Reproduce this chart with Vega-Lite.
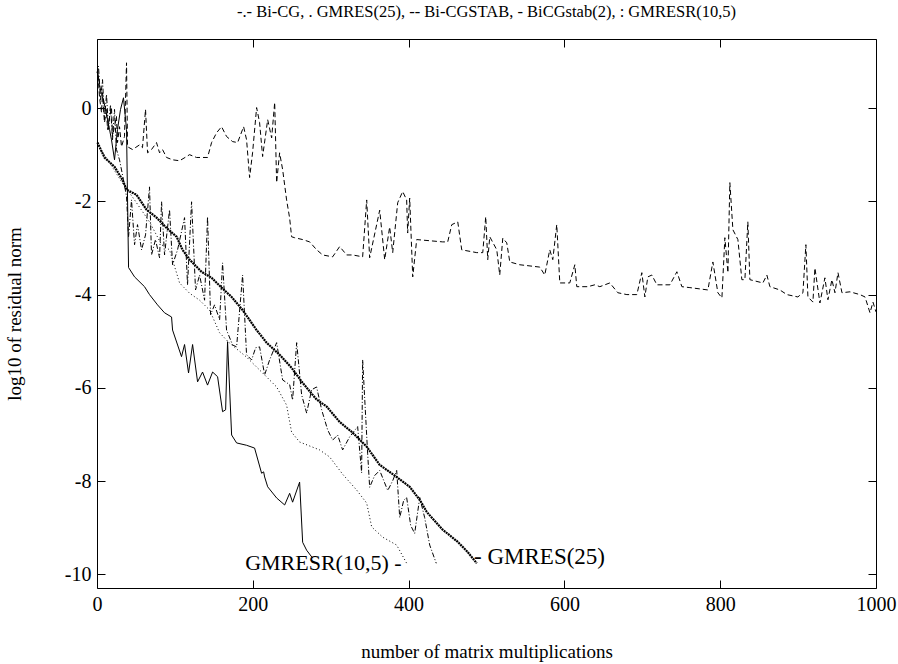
{
  "$schema": "https://vega.github.io/schema/vega-lite/v6.json",
  "width": 779,
  "height": 549,
  "autosize": {"type": "none"},
  "padding": {"left": 97, "top": 39, "right": 22, "bottom": 76},
  "background": "white",
  "title": {"text": "-.- Bi-CG, . GMRES(25), -- Bi-CGSTAB, - BiCGstab(2), : GMRESR(10,5)", "font": "Liberation Serif", "fontSize": 16.5, "fontWeight": "normal", "color": "black", "offset": 18, "anchor": "middle"},
  "config": {
    "view": {"stroke": "black", "strokeWidth": 1},
    "axis": {"domain": false, "grid": false, "tickColor": "black", "tickSize": -8, "labelColor": "black", "titleColor": "black", "labelFont": "Liberation Serif", "titleFont": "Liberation Serif", "labelFontSize": 20, "titleFontSize": 19, "titleFontWeight": "normal", "labelBound": false, "labelFlush": false, "labelOverlap": false, "labelExpr": "'' + datum.value"}
  },
  "datasets": {
    "lines": [
      {"s":"BiCGstab2","x":0.6,"y":0.82},{"s":"BiCGstab2","x":3.2,"y":0.5},{"s":"BiCGstab2","x":5.8,"y":0.29},{"s":"BiCGstab2","x":8.3,"y":0.18},{"s":"BiCGstab2","x":10.9,"y":-0.03},{"s":"BiCGstab2","x":13.5,"y":-0.25},{"s":"BiCGstab2","x":16.1,"y":-0.46},{"s":"BiCGstab2","x":18.6,"y":-0.68},{"s":"BiCGstab2","x":22.5,"y":-1.11},{"s":"BiCGstab2","x":26.3,"y":-0.46},{"s":"BiCGstab2","x":30.2,"y":-0.03},{"s":"BiCGstab2","x":34.0,"y":0.22},{"s":"BiCGstab2","x":37.9,"y":-0.46},{"s":"BiCGstab2","x":40.5,"y":-3.42},{"s":"BiCGstab2","x":48.2,"y":-3.62},{"s":"BiCGstab2","x":61.0,"y":-3.83},{"s":"BiCGstab2","x":67.4,"y":-4.0},{"s":"BiCGstab2","x":77.7,"y":-4.22},{"s":"BiCGstab2","x":86.7,"y":-4.39},{"s":"BiCGstab2","x":95.7,"y":-4.48},{"s":"BiCGstab2","x":97.0,"y":-4.76},{"s":"BiCGstab2","x":108.5,"y":-5.33},{"s":"BiCGstab2","x":112.4,"y":-5.07},{"s":"BiCGstab2","x":117.5,"y":-5.68},{"s":"BiCGstab2","x":122.7,"y":-5.07},{"s":"BiCGstab2","x":129.1,"y":-5.87},{"s":"BiCGstab2","x":135.5,"y":-5.66},{"s":"BiCGstab2","x":141.9,"y":-5.94},{"s":"BiCGstab2","x":148.4,"y":-5.66},{"s":"BiCGstab2","x":154.8,"y":-5.76},{"s":"BiCGstab2","x":161.2,"y":-6.51},{"s":"BiCGstab2","x":165.1,"y":-6.47},{"s":"BiCGstab2","x":167.6,"y":-5.01},{"s":"BiCGstab2","x":172.8,"y":-7.01},{"s":"BiCGstab2","x":179.2,"y":-7.18},{"s":"BiCGstab2","x":192.0,"y":-7.23},{"s":"BiCGstab2","x":202.3,"y":-7.29},{"s":"BiCGstab2","x":211.3,"y":-7.83},{"s":"BiCGstab2","x":213.9,"y":-7.8},{"s":"BiCGstab2","x":215.2,"y":-7.91},{"s":"BiCGstab2","x":219.1,"y":-8.12},{"s":"BiCGstab2","x":230.6,"y":-8.36},{"s":"BiCGstab2","x":240.9,"y":-8.51},{"s":"BiCGstab2","x":247.3,"y":-8.26},{"s":"BiCGstab2","x":251.1,"y":-8.45},{"s":"BiCGstab2","x":260.1,"y":-8.02},{"s":"BiCGstab2","x":264.0,"y":-9.31},{"s":"BiCGstab2","x":269.1,"y":-9.48},{"s":"BiCGstab2","x":276.8,"y":-9.65},

      {"s":"GMRES","x":0.6,"y":-0.74},{"s":"GMRES","x":9.6,"y":-1.06},{"s":"GMRES","x":22.5,"y":-1.26},{"s":"GMRES","x":32.8,"y":-1.54},{"s":"GMRES","x":37.9,"y":-1.75},{"s":"GMRES","x":50.7,"y":-1.86},{"s":"GMRES","x":63.6,"y":-2.18},{"s":"GMRES","x":76.5,"y":-2.35},{"s":"GMRES","x":89.3,"y":-2.57},{"s":"GMRES","x":102.2,"y":-2.76},{"s":"GMRES","x":109.8,"y":-3.04},{"s":"GMRES","x":118.8,"y":-3.25},{"s":"GMRES","x":134.2,"y":-3.51},{"s":"GMRES","x":147.1,"y":-3.64},{"s":"GMRES","x":159.9,"y":-3.85},{"s":"GMRES","x":172.8,"y":-4.05},{"s":"GMRES","x":186.9,"y":-4.33},{"s":"GMRES","x":204.9,"y":-4.76},{"s":"GMRES","x":217.7,"y":-5.03},{"s":"GMRES","x":234.4,"y":-5.29},{"s":"GMRES","x":249.8,"y":-5.57},{"s":"GMRES","x":263.9,"y":-5.89},{"s":"GMRES","x":281.9,"y":-6.25},{"s":"GMRES","x":294.8,"y":-6.4},{"s":"GMRES","x":311.5,"y":-6.73},{"s":"GMRES","x":328.2,"y":-6.96},{"s":"GMRES","x":346.2,"y":-7.26},{"s":"GMRES","x":362.9,"y":-7.65},{"s":"GMRES","x":384.7,"y":-7.91},{"s":"GMRES","x":401.4,"y":-8.12},{"s":"GMRES","x":414.3,"y":-8.4},{"s":"GMRES","x":423.3,"y":-8.66},{"s":"GMRES","x":443.8,"y":-9.04},{"s":"GMRES","x":463.1,"y":-9.3},{"s":"GMRES","x":475.9,"y":-9.52},{"s":"GMRES","x":487.5,"y":-9.76},

      {"s":"GMRESR","x":0.6,"y":-0.8},{"s":"GMRESR","x":16.1,"y":-1.17},{"s":"GMRESR","x":31.5,"y":-1.58},{"s":"GMRESR","x":48.2,"y":-1.97},{"s":"GMRESR","x":67.4,"y":-2.44},{"s":"GMRESR","x":82.9,"y":-2.93},{"s":"GMRESR","x":93.1,"y":-3.04},{"s":"GMRESR","x":106.0,"y":-3.75},{"s":"GMRESR","x":118.8,"y":-3.97},{"s":"GMRESR","x":131.7,"y":-4.12},{"s":"GMRESR","x":144.5,"y":-4.33},{"s":"GMRESR","x":157.4,"y":-4.82},{"s":"GMRESR","x":170.2,"y":-5.04},{"s":"GMRESR","x":192.0,"y":-5.34},{"s":"GMRESR","x":212.6,"y":-5.68},{"s":"GMRESR","x":230.6,"y":-5.98},{"s":"GMRESR","x":243.4,"y":-6.37},{"s":"GMRESR","x":249.8,"y":-6.95},{"s":"GMRESR","x":260.1,"y":-7.16},{"s":"GMRESR","x":285.8,"y":-7.33},{"s":"GMRESR","x":298.6,"y":-7.48},{"s":"GMRESR","x":315.3,"y":-7.85},{"s":"GMRESR","x":333.3,"y":-8.19},{"s":"GMRESR","x":346.2,"y":-8.47},{"s":"GMRESR","x":352.6,"y":-8.98},{"s":"GMRESR","x":366.7,"y":-9.2},{"s":"GMRESR","x":384.7,"y":-9.37},{"s":"GMRESR","x":397.5,"y":-9.76},

      {"s":"BiCG","x":0,"y":0.75},{"s":"BiCG","x":1.9,"y":0.9},{"s":"BiCG","x":4.5,"y":0.18},{"s":"BiCG","x":7.1,"y":0.61},{"s":"BiCG","x":9.6,"y":-0.25},{"s":"BiCG","x":12.2,"y":0.29},{"s":"BiCG","x":14.8,"y":-0.46},{"s":"BiCG","x":17.3,"y":0.07},{"s":"BiCG","x":19.9,"y":-0.68},{"s":"BiCG","x":22.5,"y":-0.03},{"s":"BiCG","x":25.0,"y":-0.89},{"s":"BiCG","x":28.9,"y":-1.11},{"s":"BiCG","x":34.0,"y":-1.54},{"s":"BiCG","x":37.9,"y":-1.9},{"s":"BiCG","x":40.5,"y":-2.76},{"s":"BiCG","x":44.3,"y":-1.97},{"s":"BiCG","x":48.2,"y":-2.93},{"s":"BiCG","x":52.0,"y":-2.5},{"s":"BiCG","x":57.2,"y":-3.04},{"s":"BiCG","x":62.3,"y":-2.72},{"s":"BiCG","x":67.4,"y":-1.69},{"s":"BiCG","x":70.0,"y":-3.15},{"s":"BiCG","x":75.1,"y":-2.82},{"s":"BiCG","x":80.3,"y":-3.21},{"s":"BiCG","x":82.9,"y":-2.01},{"s":"BiCG","x":86.7,"y":-3.15},{"s":"BiCG","x":93.1,"y":-2.18},{"s":"BiCG","x":97.0,"y":-3.36},{"s":"BiCG","x":103.4,"y":-3.04},{"s":"BiCG","x":112.4,"y":-2.35},{"s":"BiCG","x":116.2,"y":-3.79},{"s":"BiCG","x":121.4,"y":-2.01},{"s":"BiCG","x":126.5,"y":-3.9},{"s":"BiCG","x":131.7,"y":-3.58},{"s":"BiCG","x":138.1,"y":-4.12},{"s":"BiCG","x":141.9,"y":-2.33},{"s":"BiCG","x":145.8,"y":-4.43},{"s":"BiCG","x":150.9,"y":-4.22},{"s":"BiCG","x":157.4,"y":-4.54},{"s":"BiCG","x":161.2,"y":-3.32},{"s":"BiCG","x":166.3,"y":-4.76},{"s":"BiCG","x":174.1,"y":-5.08},{"s":"BiCG","x":179.2,"y":-5.12},{"s":"BiCG","x":186.9,"y":-3.58},{"s":"BiCG","x":192.0,"y":-5.29},{"s":"BiCG","x":198.5,"y":-5.4},{"s":"BiCG","x":203.6,"y":-5.14},{"s":"BiCG","x":208.7,"y":-5.12},{"s":"BiCG","x":215.2,"y":-5.72},{"s":"BiCG","x":221.6,"y":-5.4},{"s":"BiCG","x":230.6,"y":-5.03},{"s":"BiCG","x":238.3,"y":-5.83},{"s":"BiCG","x":247.3,"y":-5.93},{"s":"BiCG","x":251.1,"y":-6.26},{"s":"BiCG","x":256.3,"y":-5.03},{"s":"BiCG","x":262.7,"y":-6.15},{"s":"BiCG","x":269.1,"y":-6.54},{"s":"BiCG","x":275.5,"y":-6.04},{"s":"BiCG","x":281.9,"y":-5.98},{"s":"BiCG","x":288.4,"y":-6.47},{"s":"BiCG","x":296.1,"y":-6.9},{"s":"BiCG","x":302.5,"y":-7.12},{"s":"BiCG","x":308.9,"y":-7.01},{"s":"BiCG","x":315.3,"y":-7.33},{"s":"BiCG","x":324.3,"y":-7.05},{"s":"BiCG","x":334.6,"y":-6.83},{"s":"BiCG","x":339.7,"y":-7.82},{"s":"BiCG","x":341.0,"y":-5.4},{"s":"BiCG","x":347.4,"y":-7.4},{"s":"BiCG","x":350.0,"y":-8.13},{"s":"BiCG","x":356.4,"y":-7.88},{"s":"BiCG","x":362.9,"y":-7.77},{"s":"BiCG","x":373.2,"y":-8.2},{"s":"BiCG","x":379.6,"y":-7.99},{"s":"BiCG","x":384.7,"y":-7.77},{"s":"BiCG","x":388.6,"y":-8.78},{"s":"BiCG","x":393.7,"y":-8.41},{"s":"BiCG","x":397.5,"y":-8.35},{"s":"BiCG","x":402.7,"y":-8.95},{"s":"BiCG","x":407.8,"y":-9.12},{"s":"BiCG","x":414.3,"y":-8.35},{"s":"BiCG","x":420.6,"y":-8.78},{"s":"BiCG","x":427.1,"y":-9.37},{"s":"BiCG","x":435.5,"y":-9.76},

      {"s":"BiCGSTAB","x":0.6,"y":0.87},{"s":"BiCGSTAB","x":3.2,"y":0.24},{"s":"BiCGSTAB","x":5.8,"y":-0.1},{"s":"BiCGSTAB","x":7.1,"y":0.33},{"s":"BiCGSTAB","x":9.6,"y":-0.31},{"s":"BiCGSTAB","x":12.2,"y":-0.03},{"s":"BiCGSTAB","x":13.5,"y":-0.46},{"s":"BiCGSTAB","x":18.6,"y":0.01},{"s":"BiCGSTAB","x":19.9,"y":-0.61},{"s":"BiCGSTAB","x":25.0,"y":-0.18},{"s":"BiCGSTAB","x":26.3,"y":-0.74},{"s":"BiCGSTAB","x":28.9,"y":-0.4},{"s":"BiCGSTAB","x":31.5,"y":-0.83},{"s":"BiCGSTAB","x":35.3,"y":-0.61},{"s":"BiCGSTAB","x":37.9,"y":0.97},{"s":"BiCGSTAB","x":39.2,"y":-0.83},{"s":"BiCGSTAB","x":45.6,"y":-0.89},{"s":"BiCGSTAB","x":54.6,"y":-0.79},{"s":"BiCGSTAB","x":58.4,"y":-0.85},{"s":"BiCGSTAB","x":62.3,"y":-0.03},{"s":"BiCGSTAB","x":64.9,"y":-0.96},{"s":"BiCGSTAB","x":70.0,"y":-0.89},{"s":"BiCGSTAB","x":76.4,"y":-0.74},{"s":"BiCGSTAB","x":80.3,"y":-0.96},{"s":"BiCGSTAB","x":84.1,"y":-0.89},{"s":"BiCGSTAB","x":89.3,"y":-1.06},{"s":"BiCGSTAB","x":97.0,"y":-1.11},{"s":"BiCGSTAB","x":106.0,"y":-1.13},{"s":"BiCGSTAB","x":115.0,"y":-1.04},{"s":"BiCGSTAB","x":118.8,"y":-1.0},{"s":"BiCGSTAB","x":127.8,"y":-1.06},{"s":"BiCGSTAB","x":141.9,"y":-1.06},{"s":"BiCGSTAB","x":147.1,"y":-0.74},{"s":"BiCGSTAB","x":153.5,"y":-0.53},{"s":"BiCGSTAB","x":159.9,"y":-0.4},{"s":"BiCGSTAB","x":166.3,"y":-0.61},{"s":"BiCGSTAB","x":174.1,"y":-0.72},{"s":"BiCGSTAB","x":180.5,"y":-0.74},{"s":"BiCGSTAB","x":188.2,"y":-0.4},{"s":"BiCGSTAB","x":192.0,"y":-0.68},{"s":"BiCGSTAB","x":195.9,"y":-1.49},{"s":"BiCGSTAB","x":199.7,"y":-0.96},{"s":"BiCGSTAB","x":204.9,"y":0.01},{"s":"BiCGSTAB","x":208.7,"y":-0.31},{"s":"BiCGSTAB","x":212.6,"y":-1.04},{"s":"BiCGSTAB","x":219.1,"y":-0.25},{"s":"BiCGSTAB","x":224.2,"y":-0.64},{"s":"BiCGSTAB","x":228.1,"y":0.12},{"s":"BiCGSTAB","x":230.6,"y":-1.6},{"s":"BiCGSTAB","x":234.4,"y":-0.96},{"s":"BiCGSTAB","x":238.3,"y":-1.32},{"s":"BiCGSTAB","x":243.4,"y":-1.97},{"s":"BiCGSTAB","x":247.3,"y":-2.36},{"s":"BiCGSTAB","x":249.8,"y":-2.76},{"s":"BiCGSTAB","x":253.7,"y":-2.78},{"s":"BiCGSTAB","x":264.0,"y":-2.82},{"s":"BiCGSTAB","x":273.0,"y":-2.87},{"s":"BiCGSTAB","x":282.0,"y":-3.04},{"s":"BiCGSTAB","x":289.7,"y":-3.15},{"s":"BiCGSTAB","x":302.5,"y":-3.19},{"s":"BiCGSTAB","x":311.5,"y":-2.97},{"s":"BiCGSTAB","x":320.5,"y":-3.15},{"s":"BiCGSTAB","x":328.2,"y":-3.15},{"s":"BiCGSTAB","x":341.0,"y":-3.19},{"s":"BiCGSTAB","x":346.2,"y":-1.97},{"s":"BiCGSTAB","x":350.0,"y":-3.21},{"s":"BiCGSTAB","x":362.9,"y":-2.19},{"s":"BiCGSTAB","x":369.3,"y":-3.25},{"s":"BiCGSTAB","x":375.7,"y":-2.55},{"s":"BiCGSTAB","x":379.6,"y":-3.1},{"s":"BiCGSTAB","x":386.0,"y":-2.03},{"s":"BiCGSTAB","x":392.4,"y":-1.79},{"s":"BiCGSTAB","x":397.5,"y":-1.97},{"s":"BiCGSTAB","x":398.8,"y":-2.68},{"s":"BiCGSTAB","x":401.4,"y":-1.93},{"s":"BiCGSTAB","x":405.3,"y":-3.62},{"s":"BiCGSTAB","x":410.4,"y":-2.82},{"s":"BiCGSTAB","x":443.8,"y":-2.87},{"s":"BiCGSTAB","x":450.2,"y":-2.87},{"s":"BiCGSTAB","x":455.4,"y":-2.5},{"s":"BiCGSTAB","x":463.1,"y":-2.44},{"s":"BiCGSTAB","x":468.2,"y":-3.04},{"s":"BiCGSTAB","x":487.5,"y":-3.1},{"s":"BiCGSTAB","x":495.2,"y":-3.1},{"s":"BiCGSTAB","x":499.0,"y":-2.33},{"s":"BiCGSTAB","x":501.6,"y":-3.25},{"s":"BiCGSTAB","x":504.2,"y":-2.76},{"s":"BiCGSTAB","x":513.2,"y":-3.04},{"s":"BiCGSTAB","x":517.0,"y":-3.58},{"s":"BiCGSTAB","x":520.9,"y":-2.79},{"s":"BiCGSTAB","x":526.0,"y":-2.89},{"s":"BiCGSTAB","x":529.9,"y":-3.3},{"s":"BiCGSTAB","x":542.7,"y":-3.36},{"s":"BiCGSTAB","x":568.4,"y":-3.41},{"s":"BiCGSTAB","x":574.8,"y":-3.58},{"s":"BiCGSTAB","x":581.2,"y":-3.04},{"s":"BiCGSTAB","x":585.1,"y":-3.25},{"s":"BiCGSTAB","x":590.2,"y":-2.5},{"s":"BiCGSTAB","x":594.1,"y":-3.75},{"s":"BiCGSTAB","x":606.9,"y":-3.75},{"s":"BiCGSTAB","x":613.4,"y":-3.36},{"s":"BiCGSTAB","x":615.9,"y":-3.83},{"s":"BiCGSTAB","x":630.1,"y":-3.83},{"s":"BiCGSTAB","x":639.0,"y":-3.79},{"s":"BiCGSTAB","x":645.5,"y":-3.83},{"s":"BiCGSTAB","x":658.3,"y":-3.75},{"s":"BiCGSTAB","x":668.6,"y":-3.96},{"s":"BiCGSTAB","x":680.2,"y":-4.0},{"s":"BiCGSTAB","x":693.0,"y":-4.0},{"s":"BiCGSTAB","x":699.4,"y":-3.53},{"s":"BiCGSTAB","x":703.3,"y":-4.05},{"s":"BiCGSTAB","x":707.1,"y":-3.62},{"s":"BiCGSTAB","x":712.3,"y":-3.58},{"s":"BiCGSTAB","x":718.7,"y":-3.79},{"s":"BiCGSTAB","x":735.4,"y":-3.79},{"s":"BiCGSTAB","x":744.4,"y":-3.51},{"s":"BiCGSTAB","x":750.8,"y":-3.83},{"s":"BiCGSTAB","x":761.1,"y":-3.85},{"s":"BiCGSTAB","x":784.2,"y":-3.9},{"s":"BiCGSTAB","x":790.6,"y":-3.3},{"s":"BiCGSTAB","x":797.0,"y":-3.96},{"s":"BiCGSTAB","x":802.2,"y":-4.07},{"s":"BiCGSTAB","x":806.0,"y":-2.78},{"s":"BiCGSTAB","x":809.9,"y":-3.53},{"s":"BiCGSTAB","x":812.4,"y":-1.6},{"s":"BiCGSTAB","x":816.3,"y":-2.61},{"s":"BiCGSTAB","x":822.7,"y":-2.82},{"s":"BiCGSTAB","x":827.8,"y":-3.68},{"s":"BiCGSTAB","x":831.7,"y":-3.68},{"s":"BiCGSTAB","x":835.5,"y":-2.44},{"s":"BiCGSTAB","x":838.1,"y":-3.68},{"s":"BiCGSTAB","x":854.8,"y":-3.75},{"s":"BiCGSTAB","x":859.9,"y":-3.58},{"s":"BiCGSTAB","x":863.8,"y":-3.83},{"s":"BiCGSTAB","x":876.6,"y":-3.9},{"s":"BiCGSTAB","x":885.6,"y":-4.0},{"s":"BiCGSTAB","x":899.7,"y":-4.05},{"s":"BiCGSTAB","x":906.2,"y":-3.96},{"s":"BiCGSTAB","x":910.0,"y":-2.93},{"s":"BiCGSTAB","x":912.6,"y":-4.05},{"s":"BiCGSTAB","x":919.0,"y":-4.16},{"s":"BiCGSTAB","x":921.6,"y":-3.43},{"s":"BiCGSTAB","x":928.0,"y":-4.18},{"s":"BiCGSTAB","x":934.4,"y":-3.64},{"s":"BiCGSTAB","x":938.3,"y":-4.11},{"s":"BiCGSTAB","x":943.4,"y":-3.68},{"s":"BiCGSTAB","x":947.3,"y":-3.96},{"s":"BiCGSTAB","x":951.2,"y":-3.53},{"s":"BiCGSTAB","x":956.3,"y":-3.96},{"s":"BiCGSTAB","x":966.6,"y":-3.94},{"s":"BiCGSTAB","x":979.4,"y":-4.0},{"s":"BiCGSTAB","x":985.9,"y":-4.05},{"s":"BiCGSTAB","x":992.3,"y":-4.39},{"s":"BiCGSTAB","x":996.1,"y":-4.16},{"s":"BiCGSTAB","x":1000,"y":-4.37}
    ]
  },
  "layer": [
    {
      "data": {"name": "lines"},
      "transform": [{"filter": "datum.s == 'BiCGSTAB'"}],
      "mark": {"type": "line", "color": "black", "strokeWidth": 1, "strokeDash": [5, 3], "strokeCap": "butt"},
      "encoding": {
        "x": {"field": "x", "type": "quantitative", "scale": {"domain": [0, 1000], "nice": false, "zero": false}, "axis": {"orient": "bottom", "values": [0, 200, 400, 600, 800, 1000], "title": "number of matrix multiplications", "titlePadding": 28, "labelPadding": 14}},
        "y": {"field": "y", "type": "quantitative", "scale": {"domain": [-10.29, 1.48], "nice": false, "zero": false}, "axis": {"orient": "left", "values": [-10, -8, -6, -4, -2, 0], "title": "log10 of residual norm", "titlePadding": 40, "labelPadding": 14}}
      }
    },
    {
      "data": {"name": "lines"},
      "transform": [{"filter": "datum.s == 'BiCG'"}],
      "mark": {"type": "line", "color": "black", "strokeWidth": 1, "strokeDash": [5, 2, 1, 2], "strokeCap": "butt"},
      "encoding": {
        "x": {"field": "x", "type": "quantitative", "axis": null},
        "y": {"field": "y", "type": "quantitative", "axis": null}
      }
    },
    {
      "data": {"name": "lines"},
      "transform": [{"filter": "datum.s == 'GMRESR'"}],
      "mark": {"type": "line", "color": "black", "strokeWidth": 1, "strokeDash": [1, 2.5], "strokeCap": "butt"},
      "encoding": {
        "x": {"field": "x", "type": "quantitative", "axis": null},
        "y": {"field": "y", "type": "quantitative", "axis": null}
      }
    },
    {
      "data": {"name": "lines"},
      "transform": [{"filter": "datum.s == 'BiCGstab2'"}],
      "mark": {"type": "line", "color": "black", "strokeWidth": 1},
      "encoding": {
        "x": {"field": "x", "type": "quantitative", "axis": null},
        "y": {"field": "y", "type": "quantitative", "axis": null}
      }
    },
    {
      "data": {"name": "lines"},
      "transform": [{"filter": "datum.s == 'GMRES'"}],
      "mark": {"type": "line", "color": "black", "strokeWidth": 2.2, "strokeDash": [2, 0.7], "strokeCap": "butt"},
      "encoding": {
        "x": {"field": "x", "type": "quantitative", "axis": null},
        "y": {"field": "y", "type": "quantitative", "axis": null}
      }
    },
    {
      "data": {"values": [{"x": 391, "y": -9.76, "t": "GMRESR(10,5) -"}]},
      "mark": {"type": "text", "align": "right", "baseline": "middle", "font": "Liberation Serif", "fontSize": 22, "color": "black"},
      "encoding": {
        "x": {"field": "x", "type": "quantitative", "axis": {"orient": "top", "values": [0, 200, 400, 600, 800, 1000], "labels": false, "title": null}},
        "y": {"field": "y", "type": "quantitative", "axis": {"orient": "right", "values": [-10, -8, -6, -4, -2, 0], "labels": false, "title": null}},
        "text": {"field": "t"}
      }
    },
    {
      "data": {"values": [{"x": 484, "y": -9.63, "t": "- GMRES(25)"}]},
      "mark": {"type": "text", "align": "left", "baseline": "middle", "font": "Liberation Serif", "fontSize": 23, "color": "black"},
      "encoding": {
        "x": {"field": "x", "type": "quantitative", "axis": null},
        "y": {"field": "y", "type": "quantitative", "axis": null},
        "text": {"field": "t"}
      }
    }
  ],
  "resolve": {"axis": {"x": "independent", "y": "independent"}}
}
